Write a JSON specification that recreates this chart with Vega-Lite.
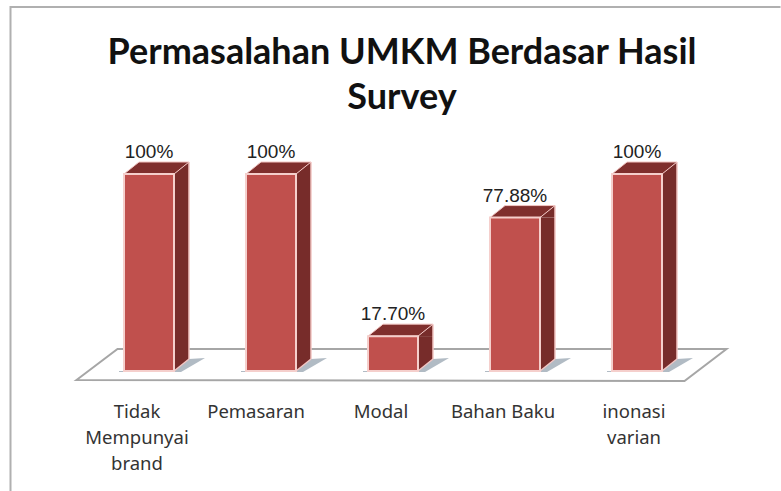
{
"$schema":"https://vega.github.io/schema/vega-lite/v6.json",
"autosize":{"type":"none"},
"padding":{"left":88,"top":174,"right":83,"bottom":120},
"width":610,"height":197,
"background":"white",
"config":{"view":{"stroke":null}},
"title":{"text":["Permasalahan UMKM Berdasar Hasil","Survey"],"font":"Lato","fontWeight":"bold","fontSize":36,"lineHeight":45,"color":"#111111","anchor":"middle","frame":"group","dx":9,"offset":-114},
"data":{"values":[
{"kategori":"Tidak Mempunyai brand","nilai":100,"label":"100%"},
{"kategori":"Pemasaran","nilai":100,"label":"100%"},
{"kategori":"Modal","nilai":17.7,"label":"17.70%"},
{"kategori":"Bahan Baku","nilai":77.88,"label":"77.88%"},
{"kategori":"inonasi varian","nilai":100,"label":"100%"}
]},
"encoding":{
"x":{"field":"kategori","type":"nominal","scale":{"domain":["Tidak Mempunyai brand","Pemasaran","Modal","Bahan Baku","inonasi varian"],"paddingInner":0,"paddingOuter":0},
"axis":{"title":null,"domain":false,"ticks":false,"labelAngle":0,"labelAlign":"center","labelBaseline":"top","labelPadding":31,"labelFont":"Noto Sans","labelFontSize":18.5,"labelLineHeight":26,"labelColor":"#333333","labelLimit":0,
"labelOffset":{"expr":"datum.value=='inonasi varian'?-3:datum.value=='Pemasaran'?-15:-12"},
"labelExpr":"datum.value=='Tidak Mempunyai brand'?['Tidak','Mempunyai','brand']:datum.value=='inonasi varian'?['inonasi','varian']:datum.label"}},
"y":{"field":"nilai","type":"quantitative","scale":{"domain":[0,100]},"axis":null}
},
"layer":[
{"transform":[{"filter":"datum.kategori=='Modal'"}],
 "mark":{"type":"point","filled":true,"size":4,"fill":"white","stroke":"#a6a6a6","strokeWidth":2,"opacity":1,"shape":"M-316.5 9L-275.5 -22L333.5 -22L291.5 10Z"},
 "encoding":{"y":{"datum":0}}},
{"transform":[{"filter":"datum.kategori=='Modal'"}],
 "mark":{"type":"point","filled":false,"size":4,"stroke":"#b0b0b0","strokeWidth":2,"opacity":1,"shape":"M-382.5 120L-382.5 -364L387.5 -364"},
 "encoding":{"y":{"datum":0}}},
{"mark":{"type":"point","filled":true,"size":4,"fill":"#64778a","opacity":0.5,"shape":"M-30 0L25 0L40 -12L56 -13L32 1L-30 1Z"},
 "encoding":{"y":{"datum":0}}},
{"mark":{"type":"bar","size":15,"xOffset":32.5,"y2Offset":-12,"fill":"#772c2a"},
 "encoding":{"y2":{"datum":0}}},
{"mark":{"type":"point","filled":true,"size":4,"fill":"#772c2a","opacity":1,"shape":"M25 0L40 -12L40 0Z"}},
{"mark":{"type":"point","filled":true,"size":4,"fill":"#772c2a","opacity":1,"shape":"M25 0L25 -12L40 -12Z"},
 "encoding":{"y":{"datum":0}}},
{"mark":{"type":"point","filled":false,"size":4,"stroke":"#f2c6c3","strokeWidth":1.5,"opacity":1,"shape":"M25 0L40 -12"},
 "encoding":{"y":{"datum":0}}},
{"mark":{"type":"rule","xOffset":40,"y2Offset":-12,"stroke":"#f2c6c3","strokeWidth":1.5,"yOffset":-12},
 "encoding":{"y2":{"datum":0}}},
{"mark":{"type":"point","filled":true,"size":4,"fill":"#7f2f2d","stroke":"#f2c6c3","strokeWidth":1,"opacity":1,"shape":"M-25 0L25 0L40 -12L-10 -12Z"}},
{"mark":{"type":"bar","size":50,"fill":"#c0504d","stroke":"#f5cfcc","strokeWidth":2},
 "encoding":{"y2":{"datum":0}}},
{"mark":{"type":"text","font":"Liberation Sans","fontSize":19,"dy":-22,"color":"#222222"},
 "encoding":{"text":{"field":"label"}}}
]
}
